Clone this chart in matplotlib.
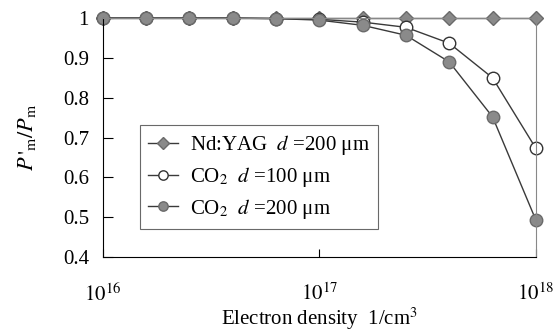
import matplotlib.pyplot as plt
import numpy as np

# electron density (1/cm^3), 0.2-decade steps
densidade = 10 ** np.array([16.0, 16.2, 16.4, 16.6, 16.8, 17.0, 17.2, 17.4, 17.6, 17.8, 18.0])

# P'm / Pm
nd_yag_200 = [1.0, 1.0, 1.0, 1.0, 1.0, 1.0, 1.0, 1.0, 1.0, 1.0, 1.0]
co2_100 = [1.0, 1.0, 1.0, 1.0, 0.999, 0.997, 0.99, 0.977, 0.937, 0.85, 0.673]
co2_200 = [1.0, 1.0, 1.0, 1.0, 0.999, 0.995, 0.982, 0.957, 0.89, 0.752, 0.493]

rotulos = ["Nd:YAG  $d$ =200 μm", "CO$_2$  $d$ =100 μm", "CO$_2$  $d$ =200 μm"]

plt.rcParams['font.family'] = ['Liberation Serif', 'DejaVu Serif']
plt.rcParams['mathtext.fontset'] = 'stix'

fig = plt.figure(figsize=(5.53, 3.36), dpi=100)
ax = fig.add_axes([0.186, 0.235, 0.783, 0.711])

cor_linha = '#3a3a3a'
ax.plot(densidade, nd_yag_200, marker='D', markersize=7.5, color=cor_linha, lw=1,
        markerfacecolor='#8a8a8a', markeredgecolor='#6a6a6a', label=rotulos[0], clip_on=False)
ax.plot(densidade, co2_100, marker='o', markersize=9, color=cor_linha, lw=1,
        markerfacecolor='white', markeredgecolor='#333333', label=rotulos[1], clip_on=False)
ax.plot(densidade, co2_200, marker='o', markersize=9, color=cor_linha, lw=1,
        markerfacecolor='#8a8a8a', markeredgecolor='#6a6a6a', label=rotulos[2], clip_on=False)

ax.set_xscale('log')
ax.set_xlim(1e16, 1e18)
ax.set_ylim(0.4, 1.0)
ax.set_xticks([1e16, 1e17, 1e18])
ax.set_xticklabels(['$10^{16}$', '$10^{17}$', '$10^{18}$'])
ax.xaxis.set_minor_locator(plt.NullLocator())
ax.set_yticks([0.4, 0.5, 0.6, 0.7, 0.8, 0.9, 1.0])
ax.set_yticklabels(['0.4', '0.5', '0.6', '0.7', '0.8', '0.9', '1'])
ax.tick_params(axis='x', direction='in', length=6, pad=19, labelsize=15)
ax.tick_params(axis='y', direction='in', length=7, pad=10, labelsize=15)

for lado in ['top', 'right']:
    ax.spines[lado].set_color('#888888')
    ax.spines[lado].set_linewidth(0.8)

ax.set_xlabel('Electron density  1/cm$^3$', fontsize=15, labelpad=0)
ax.set_ylabel("$P\\,'_\\mathrm{m}/P_\\mathrm{m}$", fontsize=16, labelpad=18)

leg = ax.legend(loc='lower left', bbox_to_anchor=(0.086, 0.117), borderaxespad=0,
                fontsize=15, frameon=True, fancybox=False, edgecolor='#444444',
                handlelength=1.4, handletextpad=0.6, markerscale=0.75,
                borderpad=0.4, labelspacing=0.38)
leg.get_frame().set_linewidth(0.8)

fig.savefig('out.png', dpi=100)
